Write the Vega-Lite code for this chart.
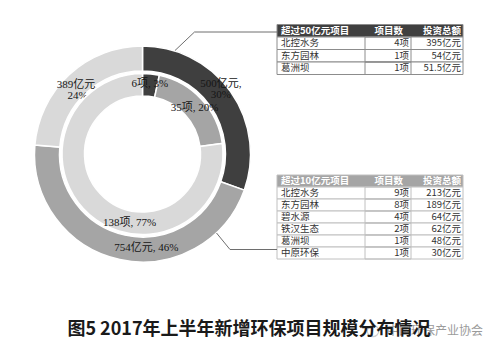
{
  "$schema": "https://vega.github.io/schema/vega-lite/v6.json",
  "width": 498,
  "height": 315,
  "padding": 0,
  "background": "white",
  "config": {"view": {"stroke": null}},
  "title": {
    "text": "图5  2017年上半年新增环保项目规模分布情况",
    "orient": "bottom",
    "anchor": "middle",
    "frame": "group",
    "offset": -18.5,
    "font": "Noto Sans CJK SC",
    "fontSize": 18,
    "fontWeight": "bold",
    "color": "#1a1a1a"
  },
  "datasets": {
    "amount": [
      {"cat": "超过50亿元", "value": 500, "label": "500亿元,\n30%", "order": 1},
      {"cat": "超过10亿元", "value": 754, "label": "754亿元, 46%", "order": 2},
      {"cat": "其他", "value": 389, "label": "389亿元,\n24%", "order": 3}
    ],
    "projects": [
      {"cat": "超过50亿元", "value": 6, "label": "6项, 3%", "order": 1},
      {"cat": "超过10亿元", "value": 35, "label": "35项, 20%", "order": 2},
      {"cat": "其他", "value": 138, "label": "138项, 77%", "order": 3}
    ],
    "over50": [
      {"name": "超过50亿元项目", "count": "项目数", "amount": "投资总额", "header": true},
      {"name": "北控水务", "count": "4项", "amount": "395亿元", "header": false},
      {"name": "东方园林", "count": "1项", "amount": "54亿元", "header": false},
      {"name": "葛洲坝", "count": "1项", "amount": "51.5亿元", "header": false}
    ],
    "over10": [
      {"name": "超过10亿元项目", "count": "项目数", "amount": "投资总额", "header": true},
      {"name": "北控水务", "count": "9项", "amount": "213亿元", "header": false},
      {"name": "东方园林", "count": "8项", "amount": "189亿元", "header": false},
      {"name": "碧水源", "count": "4项", "amount": "64亿元", "header": false},
      {"name": "铁汉生态", "count": "2项", "amount": "62亿元", "header": false},
      {"name": "葛洲坝", "count": "1项", "amount": "48亿元", "header": false},
      {"name": "中原环保", "count": "1项", "amount": "30亿元", "header": false}
    ],
    "mark1": [{"note": "watermark"}]
  },
  "layer": [
    {
      "data": {"name": "amount"},
      "encoding": {
        "theta": {"field": "value", "type": "quantitative", "stack": true},
        "order": {"field": "order", "type": "quantitative"},
        "x": {"value": 142.5},
        "y": {"value": 154}
      },
      "layer": [
        {
          "mark": {"type": "arc", "radius": 108, "radius2": 83, "stroke": "white", "strokeWidth": 1.5},
          "encoding": {
            "color": {"field": "cat", "type": "nominal", "scale": {"domain": ["超过50亿元", "超过10亿元", "其他"], "range": ["#3f3f3f", "#a5a5a5", "#d9d9d9"]}, "legend": null}
          }
        },
        {
          "mark": {"type": "text", "radius": 96, "font": "Liberation Serif, Noto Sans CJK SC", "fontSize": 11, "color": "#151515", "lineBreak": "\n", "lineHeight": 11,
            "dx": {"expr": "datum.order == 1 ? 0 : datum.order == 2 ? 24 : 0"},
            "dy": {"expr": "datum.order == 1 ? -15 : datum.order == 3 ? 2 : 0"}},
          "encoding": {"text": {"field": "label", "type": "nominal"}}
        }
      ]
    },
    {
      "data": {"name": "projects"},
      "encoding": {
        "theta": {"field": "value", "type": "quantitative", "stack": true},
        "order": {"field": "order", "type": "quantitative"},
        "x": {"value": 142.5},
        "y": {"value": 154}
      },
      "layer": [
        {
          "mark": {"type": "arc", "radius": 80.5, "radius2": 58, "stroke": "white", "strokeWidth": 1.5},
          "encoding": {
            "color": {"field": "cat", "type": "nominal", "scale": {"domain": ["超过50亿元", "超过10亿元", "其他"], "range": ["#3f3f3f", "#a5a5a5", "#d9d9d9"]}, "legend": null}
          }
        },
        {
          "mark": {"type": "text", "radius": 69.5, "font": "Liberation Serif, Noto Sans CJK SC", "fontSize": 11, "color": "#151515",
            "dx": {"expr": "datum.order == 3 ? 33 : datum.order == 2 ? 1 : 0"},
            "dy": {"expr": "datum.order == 3 ? 17 : datum.order == 2 ? 1 : -1"}},
          "encoding": {"text": {"field": "label", "type": "nominal"}}
        }
      ]
    },
    {
      "data": {"name": "over50"},
      "encoding": {
        "y": {"field": "name", "type": "nominal", "sort": null, "scale": {"type": "band", "range": [24.5, 74.5], "paddingInner": 0, "paddingOuter": 0}, "axis": null}
      },
      "layer": [
        {
          "mark": {"type": "rect", "stroke": "#8c8c8c", "strokeWidth": 1},
          "encoding": {
            "x": {"value": 277}, "x2": {"value": 463},
            "fill": {"condition": {"test": "datum.header", "value": "#404040"}, "value": "white"}
          }
        },
        {
          "mark": {"type": "rect", "fill": null, "fillOpacity": 0, "stroke": "#8c8c8c", "strokeWidth": 1},
          "encoding": {
            "x": {"value": 365}, "x2": {"value": 411},
            "strokeOpacity": {"condition": {"test": "datum.header", "value": 0}, "value": 1}
          }
        },
        {
          "mark": {"type": "text", "align": "left", "font": "Noto Sans CJK SC", "fontSize": 9.5, "fontWeight": {"expr": "datum.header ? 'bold' : 'normal'"}},
          "encoding": {
            "x": {"value": 281},
            "text": {"field": "name", "type": "nominal"},
            "color": {"condition": {"test": "datum.header", "value": "white"}, "value": "#333333"}
          }
        },
        {
          "mark": {"type": "text", "align": "right", "font": "Noto Sans CJK SC", "fontSize": 9.5, "fontWeight": {"expr": "datum.header ? 'bold' : 'normal'"}, "dx": {"expr": "datum.header ? -6 : 0"}},
          "encoding": {
            "x": {"value": 409},
            "text": {"field": "count", "type": "nominal"},
            "color": {"condition": {"test": "datum.header", "value": "white"}, "value": "#333333"}
          }
        },
        {
          "mark": {"type": "text", "align": "right", "font": "Noto Sans CJK SC", "fontSize": 9.5, "fontWeight": {"expr": "datum.header ? 'bold' : 'normal'"}},
          "encoding": {
            "x": {"value": 461},
            "text": {"field": "amount", "type": "nominal"},
            "color": {"condition": {"test": "datum.header", "value": "white"}, "value": "#333333"}
          }
        }
      ]
    },
    {
      "data": {"name": "over10"},
      "encoding": {
        "y": {"field": "name", "type": "nominal", "sort": null, "scale": {"type": "band", "range": [175, 259], "paddingInner": 0, "paddingOuter": 0}, "axis": null}
      },
      "layer": [
        {
          "mark": {"type": "rect", "stroke": "#c0c0c0", "strokeWidth": 1},
          "encoding": {
            "x": {"value": 277}, "x2": {"value": 463},
            "fill": {"condition": {"test": "datum.header", "value": "#a5a5a5"}, "value": "white"}
          }
        },
        {
          "mark": {"type": "rect", "fill": null, "fillOpacity": 0, "stroke": "#c0c0c0", "strokeWidth": 1},
          "encoding": {
            "x": {"value": 365}, "x2": {"value": 411},
            "strokeOpacity": {"condition": {"test": "datum.header", "value": 0}, "value": 1}
          }
        },
        {
          "mark": {"type": "text", "align": "left", "font": "Noto Sans CJK SC", "fontSize": 9.5, "fontWeight": {"expr": "datum.header ? 'bold' : 'normal'"}},
          "encoding": {
            "x": {"value": 281},
            "text": {"field": "name", "type": "nominal"},
            "color": {"condition": {"test": "datum.header", "value": "white"}, "value": "#333333"}
          }
        },
        {
          "mark": {"type": "text", "align": "right", "font": "Noto Sans CJK SC", "fontSize": 9.5, "fontWeight": {"expr": "datum.header ? 'bold' : 'normal'"}, "dx": {"expr": "datum.header ? -6 : 0"}},
          "encoding": {
            "x": {"value": 409},
            "text": {"field": "count", "type": "nominal"},
            "color": {"condition": {"test": "datum.header", "value": "white"}, "value": "#333333"}
          }
        },
        {
          "mark": {"type": "text", "align": "right", "font": "Noto Sans CJK SC", "fontSize": 9.5, "fontWeight": {"expr": "datum.header ? 'bold' : 'normal'"}},
          "encoding": {
            "x": {"value": 461},
            "text": {"field": "amount", "type": "nominal"},
            "color": {"condition": {"test": "datum.header", "value": "white"}, "value": "#333333"}
          }
        }
      ]
    },
    {
      "data": {"name": "mark1"},
      "layer": [
        {"mark": {"type": "rule", "color": "#6e6e6e", "strokeWidth": 1}, "encoding": {"x": {"value": 175}, "y": {"value": 50.5}, "x2": {"value": 194.5}, "y2": {"value": 32}}},
        {"mark": {"type": "rule", "color": "#6e6e6e", "strokeWidth": 1}, "encoding": {"x": {"value": 194.5}, "y": {"value": 32}, "x2": {"value": 277}, "y2": {"value": 32}}},
        {"mark": {"type": "rule", "color": "#6e6e6e", "strokeWidth": 1}, "encoding": {"x": {"value": 216.5}, "y": {"value": 233}, "x2": {"value": 230}, "y2": {"value": 249.5}}},
        {"mark": {"type": "rule", "color": "#6e6e6e", "strokeWidth": 1}, "encoding": {"x": {"value": 230}, "y": {"value": 249.5}, "x2": {"value": 277}, "y2": {"value": 249.5}}},
        {"mark": {"type": "point", "shape": "circle", "filled": false, "color": "#bbbbbb", "size": 130, "strokeWidth": 1.2}, "encoding": {"x": {"value": 373}, "y": {"value": 331}}},
        {"mark": {"type": "text", "font": "Noto Sans CJK SC", "fontSize": 12, "color": "#8a8a8a", "opacity": 0.85}, "encoding": {"x": {"value": 435}, "y": {"value": 331}, "text": {"value": "中国环保产业协会"}}}
      ]
    }
  ],
  "resolve": {"scale": {"theta": "independent", "color": "independent", "x": "independent", "y": "independent"}}
}
